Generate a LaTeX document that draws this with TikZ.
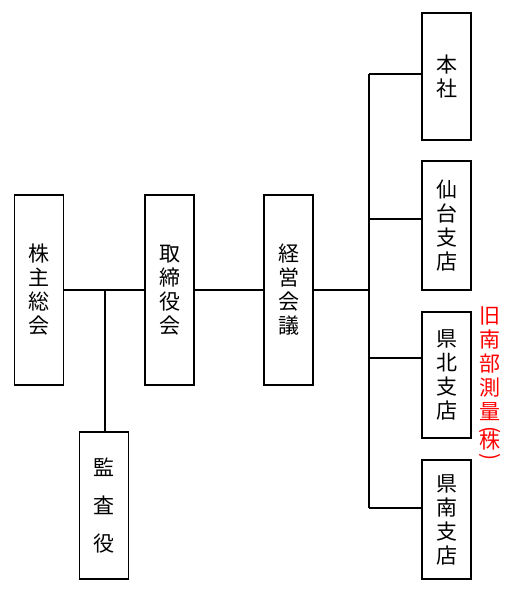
\documentclass[tikz,border=0pt]{standalone}
\usepackage{fontspec}
\usepackage{graphicx}
\newfontfamily\cjk{Noto Sans CJK JP}
\newcommand{\vparen}[1]{\rotatebox[origin=c]{-90}{#1}}
\tikzset{
  orgbox/.style={draw, line width=1.8pt, minimum width=49pt, inner sep=0pt,
    align=center, font=\cjk\fontsize{21}{24}\selectfont},
  link/.style={line width=1.5pt}
}
\begin{document}
\begin{tikzpicture}[x=1pt,y=1pt]
  \useasboundingbox (0,0) rectangle (510,-595);
  % left side
  \node[orgbox, minimum height=190pt] (kabunushi) at (39,-290) {株\\主\\総\\会};
  \node[orgbox, minimum height=190pt] (torishimari) at (169.5,-290) {取\\締\\役\\会};
  \node[orgbox, minimum height=190pt] (keiei) at (288.5,-290) {経\\営\\会\\議};
  \node[orgbox, minimum height=147pt, font=\cjk\fontsize{21}{38}\selectfont] (kansa) at (104,-505.5) {監\\査\\役};

  % branches
  \node[orgbox, minimum height=127pt] (honsha) at (446.5,-76.5) {本\\社};
  \node[orgbox, minimum height=129pt] (sendai) at (446.5,-225.5) {仙\\台\\支\\店};
  \node[orgbox, minimum height=126pt] (kenpoku) at (446.5,-375) {県\\北\\支\\店};
  \node[orgbox, minimum height=119pt] (kennan) at (446.5,-519.5) {県\\南\\支\\店};

  \node[text=red, align=center, inner sep=0pt, font=\cjk\fontsize{21}{24}\selectfont] (kyunanbu) at (490,-385) {旧\\南\\部\\測\\量\\[-7pt]\vparen{(}\\[-12pt]株\\[-9pt]\vparen{)}};

  % connectors
  \coordinate (j1) at (105,-290);
  \coordinate (t0) at (369,-290);
  \coordinate (t1) at (369,-74);
  \coordinate (t2) at (369,-219);
  \coordinate (t3) at (369,-358);
  \coordinate (t4) at (369,-508);
  \draw[link] (kabunushi.east) -- (torishimari.west);
  \draw[link] (j1) -- (j1 |- kansa.north);
  \draw[link] (torishimari.east) -- (keiei.west);
  \draw[link] (keiei.east) -- (t0);
  \draw[link] (t1) -- (t4);
  \foreach \c/\n in {t1/honsha, t2/sendai, t3/kenpoku, t4/kennan}
    \draw[link] (\c) -- (\c -| \n.west);
\end{tikzpicture}
\end{document}
